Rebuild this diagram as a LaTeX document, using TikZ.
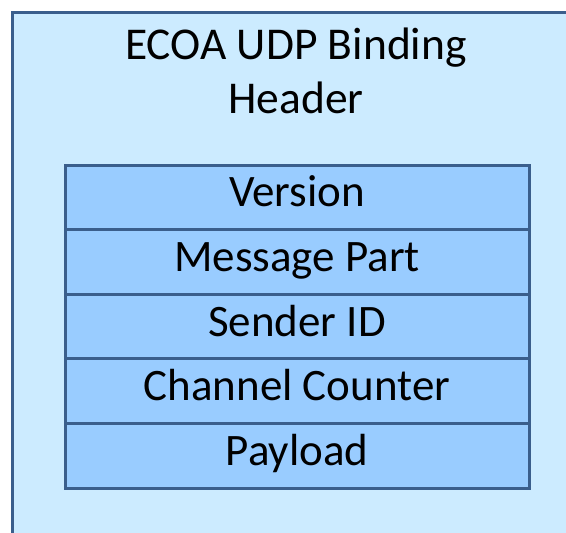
\documentclass[tikz,border=0pt]{standalone}
\usepackage{fontspec}
\setmainfont{Carlito}
\usetikzlibrary{positioning}
\definecolor{edgeblue}{HTML}{3A5E8C}
\definecolor{paleblue}{HTML}{CCEBFF}
\definecolor{fieldblue}{HTML}{99CCFF}
\begin{document}
\begin{tikzpicture}[x=1pt,y=-1pt,outer_box/.style={draw=edgeblue, line width=3pt},field/.style={rectangle, draw=edgeblue, fill=fieldblue, line width=3pt, minimum width=464pt, minimum height=64.6pt, inner sep=0pt, outer sep=0pt, text height=30pt, text depth=11pt, font=\fontsize{45}{54}\selectfont},]
            \useasboundingbox (0,0) rectangle (566,533);
            \fill[paleblue] (12,12) rectangle (566,533);
            \draw[outer_box] (12,533) -- (12,12) -- (566,12);
            \node[align=center, inner sep=0pt, font=\fontsize{45.5}{54}\selectfont] (title) at (296,70.5) {ECOA UDP Binding\\Header};
            \node[field] (version) at (297,197.3) {Version};
            \node[field, below=0pt of version] (msgpart) {Message Part};
            \node[field, below=0pt of msgpart] (sender) {Sender ID};
            \node[field, below=0pt of sender] (counter) {Channel Counter};
            \node[field, below=0pt of counter] (payload) {Payload};
        \end{tikzpicture}
\end{document}
